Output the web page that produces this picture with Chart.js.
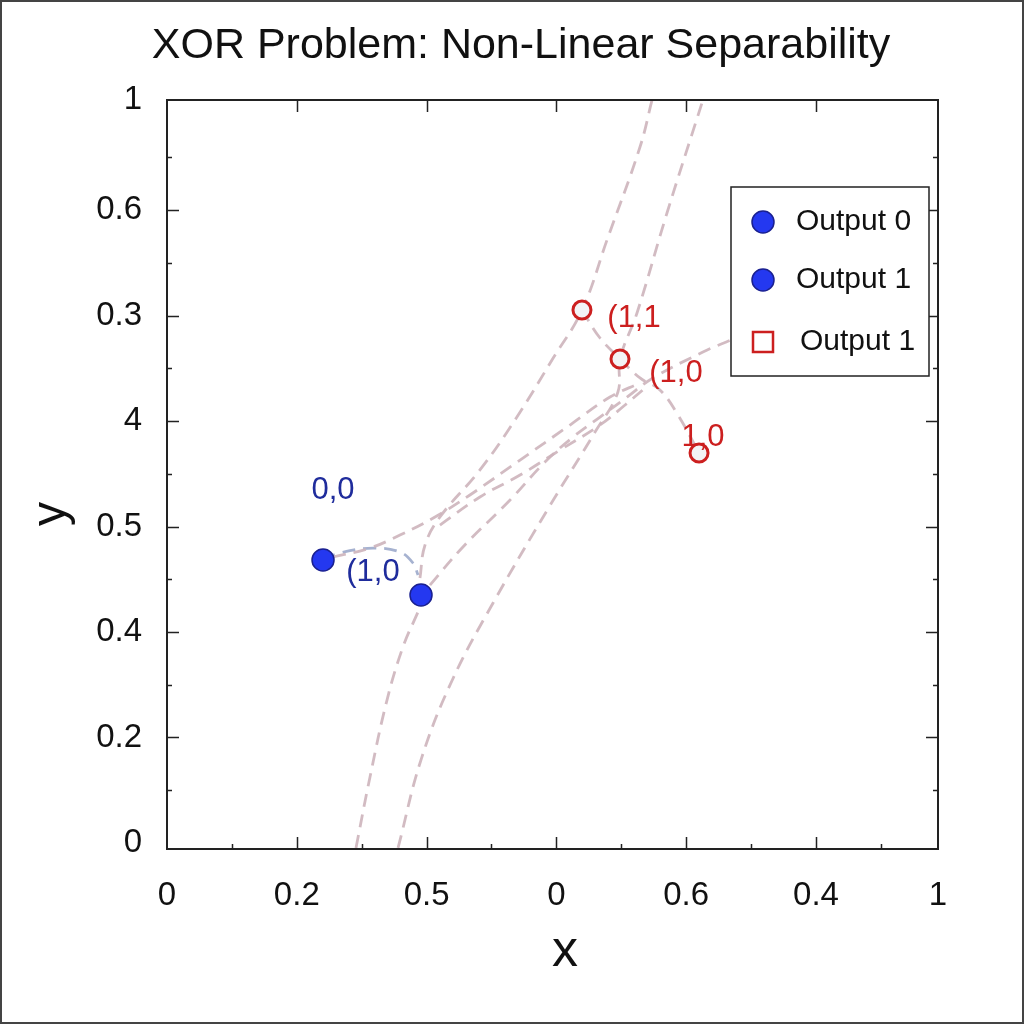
<!DOCTYPE html>
<html>
<head>
<meta charset="utf-8">
<script src="https://cdn.jsdelivr.net/npm/chart.js@4.4.1/dist/chart.umd.min.js"></script>
<style>
html,body{margin:0;padding:0;background:#fff;}
canvas{display:block;}
</style>
</head>
<body>
<canvas id="c" width="1024" height="1024"></canvas>
<script>
// ---- data ----
const titleText = 'XOR Problem: Non-Linear Separability';
const xTickVals = [0, 1, 2, 3, 4, 5, 5.94];
const xTickLabels = ['0', '0.2', '0.5', '0', '0.6', '0.4', '1'];
const yTickVals = [0, 1, 2, 3, 4, 5, 6, 7.04];
const yTickLabels = ['0', '0.2', '0.4', '0.5', '4', '0.3', '0.6', '1'];
const xMinorVals = [0.5, 1.5, 2.5, 3.5, 4.5, 5.5];
const yMinorVals = [0.5, 1.5, 2.5, 3.5, 4.5, 5.5, 6.5];

const bluePoints = [{x:1.202, y:2.682}, {x:1.957, y:2.351}];
const redPoints = [{x:3.197, y:5.052}, {x:3.490, y:4.588}, {x:4.099, y:3.697}];

const curveALow = [{x:1.456,y:-0.047},{x:1.564,y:0.626},{x:1.695,y:1.355},{x:1.818,y:1.858},{x:1.934,y:2.190}];
const curveAUp = [{x:1.949,y:2.512},{x:1.988,y:2.825},{x:2.103,y:3.090},{x:2.411,y:3.536},{x:2.696,y:4.038},{x:2.966,y:4.578},{x:3.197,y:5.052},{x:3.390,y:5.716},{x:3.644,y:6.597},{x:3.737,y:7.043}];
const curveB = [{x:1.780,y:-0.047},{x:1.960,y:0.800},{x:2.200,y:1.550},{x:2.512,y:2.275},{x:2.951,y:3.200},{x:3.300,y:3.900},{x:3.474,y:4.275},{x:3.490,y:4.588},{x:3.621,y:5.024},{x:3.852,y:5.972},{x:4.129,y:7.043}];
const curveC = [{x:2.026,y:2.445},{x:2.280,y:2.806},{x:2.643,y:3.251},{x:2.912,y:3.611},{x:3.128,y:3.848},{x:3.336,y:4.038},{x:3.544,y:4.227},{x:3.744,y:4.408},{x:4.129,y:4.654},{x:4.345,y:4.768}];
const curveD = [{x:1.279,y:2.711},{x:1.564,y:2.796},{x:1.795,y:2.919},{x:2.065,y:3.090},{x:2.334,y:3.299},{x:2.720,y:3.630},{x:3.105,y:3.962},{x:3.413,y:4.227},{x:3.644,y:4.360}];
const curveE = [{x:2.103,y:3.014},{x:2.411,y:3.280},{x:2.720,y:3.488},{x:3.028,y:3.725},{x:3.336,y:3.962},{x:3.529,y:4.152},{x:3.683,y:4.313}];
const redLink1 = [{x:3.197,y:5.052},{x:3.336,y:4.787},{x:3.490,y:4.588}];
const redLink2 = [{x:3.490,y:4.588},{x:3.644,y:4.408},{x:3.798,y:4.294},{x:3.937,y:4.057},{x:4.099,y:3.697}];
const blueArc = [{x:1.202,y:2.682},{x:1.333,y:2.749},{x:1.587,y:2.796},{x:1.795,y:2.758},{x:1.895,y:2.654},{x:1.934,y:2.540}];

const pointLabels = [
  {text:'0,0', x:1.279, y:3.346, c:'blue'},
  {text:'(1,0', x:1.587, y:2.569, c:'blue'},
  {text:'(1,1', x:3.598, y:4.976, c:'red'},
  {text:'(1,0', x:3.921, y:4.455, c:'red'},
  {text:'1,0', x:4.129, y:3.848, c:'red'}
];
const legendLabels = ['Output 0', 'Output 1', 'Output 1'];
const legendMarkers = ['blueCircle', 'blueCircle', 'redSquare'];

// ---- style ----
const FONT = '"Liberation Sans", Arial, Helvetica, sans-serif';
const BLUE_FILL = '#2438f0';
const BLUE_EDGE = '#1a2090';
const BLUE_TEXT = '#1f2c9c';
const RED = '#cc1f1f';
const DASH_COL = 'rgba(205,180,187,0.9)';
const ARC_COL = 'rgba(150,165,200,0.85)';

function dashed(data, color) {
  return {type:'scatter', data:data, showLine:true, pointRadius:0, pointHoverRadius:0,
    borderColor:color || DASH_COL, borderWidth:2.8, borderDash:[13,8], tension:0.4,
    fill:false, order:2};
}

const bgPlugin = {
  id:'bg',
  beforeDraw(chart){
    const ctx = chart.ctx;
    ctx.save(); ctx.fillStyle='#fff'; ctx.fillRect(0,0,chart.width,chart.height); ctx.restore();
  }
};

const decoPlugin = {
  id:'deco',
  afterDatasetsDraw(chart){
    const ctx = chart.ctx, xs = chart.scales.x, ys = chart.scales.y;
    ctx.save();
    ctx.font = '31px ' + FONT;
    ctx.textAlign = 'center'; ctx.textBaseline = 'middle';
    pointLabels.forEach(p => {
      ctx.fillStyle = p.c === 'blue' ? BLUE_TEXT : RED;
      ctx.fillText(p.text, xs.getPixelForValue(p.x), ys.getPixelForValue(p.y));
    });
    ctx.restore();
  },
  afterDraw(chart){
    const ctx = chart.ctx, xs = chart.scales.x, ys = chart.scales.y, a = chart.chartArea;
    ctx.save();
    // title
    ctx.fillStyle = '#111';
    ctx.font = '43px ' + FONT;
    ctx.textAlign = 'center'; ctx.textBaseline = 'middle';
    ctx.fillText(titleText, 521, 46);
    // frame
    ctx.strokeStyle = '#222'; ctx.lineWidth = 2;
    ctx.strokeRect(a.left, a.top, a.right - a.left, a.bottom - a.top);
    ctx.lineWidth = 1.5;
    ctx.beginPath();
    xTickVals.slice(1, 6).forEach(v => {
      const px = Math.round(xs.getPixelForValue(v)) + 0.5;
      ctx.moveTo(px, a.bottom); ctx.lineTo(px, a.bottom - 12);
      ctx.moveTo(px, a.top); ctx.lineTo(px, a.top + 12);
    });
    xMinorVals.forEach(v => {
      const px = Math.round(xs.getPixelForValue(v)) + 0.5;
      ctx.moveTo(px, a.bottom); ctx.lineTo(px, a.bottom - 5);
    });
    yTickVals.slice(1, 7).forEach(v => {
      const py = Math.round(ys.getPixelForValue(v)) + 0.5;
      ctx.moveTo(a.left, py); ctx.lineTo(a.left + 12, py);
      ctx.moveTo(a.right, py); ctx.lineTo(a.right - 12, py);
    });
    yMinorVals.forEach(v => {
      const py = Math.round(ys.getPixelForValue(v)) + 0.5;
      ctx.moveTo(a.left, py); ctx.lineTo(a.left + 5, py);
      ctx.moveTo(a.right, py); ctx.lineTo(a.right - 5, py);
    });
    ctx.stroke();

    // axis titles
    ctx.fillStyle = '#111';
    ctx.font = '52px ' + FONT;
    ctx.textAlign = 'center'; ctx.textBaseline = 'middle';
    ctx.fillText('x', 565, 952);
    ctx.save();
    ctx.translate(52, 514); ctx.rotate(-Math.PI/2);
    ctx.font = '48px ' + FONT;
    ctx.fillText('y', 0, 0);
    ctx.restore();

    // legend
    const lx = a.right - 207, ly = a.top + 87, lw = 198, lh = 189;
    ctx.fillStyle = '#fff'; ctx.fillRect(lx, ly, lw, lh);
    ctx.strokeStyle = '#222'; ctx.lineWidth = 1.5;
    ctx.strokeRect(lx, ly, lw, lh);
    const rowY = [35, 93, 155];
    ctx.font = '30px ' + FONT; ctx.textAlign = 'left'; ctx.textBaseline = 'middle';
    legendLabels.forEach((lab, i) => {
      const cy = ly + rowY[i], cx = lx + 32;
      if (legendMarkers[i] === 'blueCircle') {
        ctx.beginPath(); ctx.arc(cx, cy, 11, 0, Math.PI*2);
        ctx.fillStyle = BLUE_FILL; ctx.fill();
        ctx.strokeStyle = BLUE_EDGE; ctx.lineWidth = 1.5; ctx.stroke();
      } else {
        ctx.fillStyle = '#fff'; ctx.fillRect(cx - 10, cy - 10, 20, 20);
        ctx.strokeStyle = RED; ctx.lineWidth = 2.5; ctx.strokeRect(cx - 10, cy - 10, 20, 20);
      }
      ctx.fillStyle = '#111';
      ctx.fillText(lab, lx + 65 + (i === 2 ? 4 : 0), cy);
    });

    // outer image border
    ctx.strokeStyle = '#444'; ctx.lineWidth = 2;
    ctx.strokeRect(1, 1, chart.width - 2, chart.height - 2);
    ctx.restore();
  }
};

new Chart(document.getElementById('c'), {
  type:'scatter',
  data:{
    datasets:[
      {label:'Output 0', data:bluePoints, pointRadius:11, pointHoverRadius:11,
        backgroundColor:BLUE_FILL, borderColor:BLUE_EDGE, borderWidth:1.5, order:1},
      {label:'Output 1', data:redPoints, pointRadius:9, pointHoverRadius:9,
        backgroundColor:'#f3f3f5', borderColor:RED, borderWidth:3, order:1},
      dashed(curveALow), dashed(curveAUp), dashed(curveB), dashed(curveC),
      dashed(curveD), dashed(curveE), dashed(redLink1), dashed(redLink2),
      dashed(blueArc, ARC_COL)
    ]
  },
  options:{
    responsive:false, animation:false, devicePixelRatio:1,
    layout:{padding:{left:0, right:86, top:100, bottom:0}},
    plugins:{
      legend:{display:false}, tooltip:{enabled:false}, title:{display:false}
    },
    scales:{
      x:{type:'linear', min:0, max:5.94,
        grid:{display:false}, border:{display:false},
        afterBuildTicks(s){ s.ticks = xTickVals.map(v => ({value:v})); },
        afterFit(s){ s.height = 175; },
        ticks:{autoSkip:false, maxRotation:0, padding:19, color:'#111',
          font:{family:FONT, size:33},
          callback:(v, i) => xTickLabels[i]}
      },
      y:{type:'linear', min:-0.057, max:7.043,
        grid:{display:false}, border:{display:false},
        afterBuildTicks(s){ s.ticks = yTickVals.map(v => ({value:v})); },
        afterFit(s){ s.width = 167; },
        ticks:{autoSkip:false, padding:17, color:'#111',
          font:{family:FONT, size:33},
          callback:(v, i) => yTickLabels[i]}
      }
    }
  },
  plugins:[bgPlugin, decoPlugin]
});
</script>
</body>
</html>
